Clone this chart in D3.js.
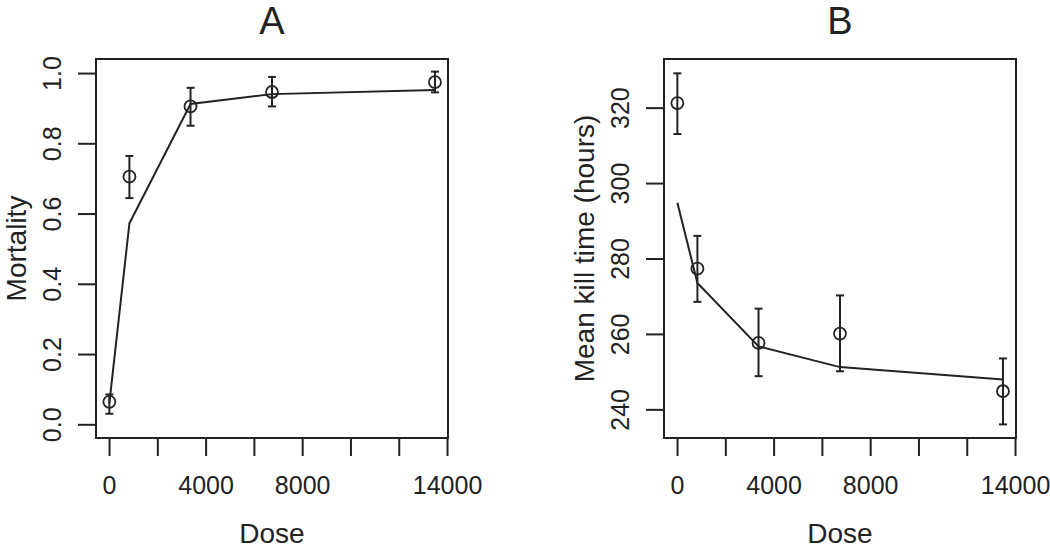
<!DOCTYPE html>
<html>
<head>
<meta charset="utf-8">
<script src="https://cdn.jsdelivr.net/npm/d3@7"></script>
<style>
  body { margin: 0; background: #fff; }
  svg { display: block; font-family: "Liberation Sans", Arial, Helvetica, sans-serif; }
</style>
</head>
<body>
<svg id="chart" width="1050" height="550"></svg>
<script>
// ---- Data ----
const doses = [13.5, 844, 3375, 6750, 13500];

// Panel A: mortality
const mortality      = [0.064, 0.705, 0.905, 0.946, 0.974];
const mortalityLow   = [0.030, 0.644, 0.850, 0.905, 0.945];
const mortalityHigh  = [0.085, 0.764, 0.958, 0.989, 1.004];
const mortalityFit   = [0.060, 0.572, 0.912, 0.940, 0.952];

// Panel B: mean kill time (hours)
const killTime      = [321.2, 277.3, 257.6, 260.1, 244.8];
const killTimeLow   = [313.0, 268.5, 248.8, 250.1, 236.0];
const killTimeHigh  = [329.1, 286.0, 266.7, 270.2, 253.5];
const killTimeFit   = [294.8, 273.5, 256.7, 251.2, 247.9];

const xTicks = [0, 2000, 4000, 6000, 8000, 10000, 12000, 14000];
const xTickLabels = [0, 4000, 8000, 14000];
const yTicksA = [0, 0.2, 0.4, 0.6, 0.8, 1.0];
const yTicksB = [240, 260, 280, 300, 320];

const panels = [
  { title: "A", ylab: "Mortality", left: 96, yDomain: [-0.039, 1.04],
    mean: mortality, lo: mortalityLow, hi: mortalityHigh, fit: mortalityFit,
    yTicks: yTicksA, fmt: d3.format(".1f") },
  { title: "B", ylab: "Mean kill time (hours)", left: 664, yDomain: [232.4, 332.9],
    mean: killTime, lo: killTimeLow, hi: killTimeHigh, fit: killTimeFit,
    yTicks: yTicksB, fmt: d3.format("d") }
];

const ink = "#222";
const plotTop = 59, plotBottom = 438, plotWidth = 352;
const svg = d3.select("#chart");

panels.forEach(p => {
  const x = d3.scaleLinear().domain([-540, 14040]).range([p.left, p.left + plotWidth]);
  const y = d3.scaleLinear().domain(p.yDomain).range([plotBottom, plotTop]);
  const g = svg.append("g");

  // box
  g.append("rect").attr("x", p.left).attr("y", plotTop)
    .attr("width", plotWidth).attr("height", plotBottom - plotTop)
    .attr("fill", "none").attr("stroke", ink).attr("stroke-width", 2);

  // x axis
  const xa = g.append("g").attr("transform", `translate(0,${plotBottom + 1})`)
    .call(d3.axisBottom(x).tickValues(xTicks).tickSize(17).tickSizeOuter(0)
      .tickFormat(d => xTickLabels.includes(d) ? d : ""));
  xa.select(".domain").remove();
  xa.selectAll(".tick line").attr("stroke", ink).attr("stroke-width", 2);
  xa.selectAll(".tick text").attr("y", 55).attr("dy", 0)
    .attr("fill", ink).style("font-size", "25px").style("font-family", "inherit");

  // y axis
  const ya = g.append("g").attr("transform", `translate(${p.left},0)`)
    .call(d3.axisLeft(y).tickValues(p.yTicks).tickSize(18).tickSizeOuter(0).tickFormat(p.fmt));
  ya.select(".domain").remove();
  ya.selectAll(".tick line").attr("stroke", ink).attr("stroke-width", 2);
  ya.selectAll(".tick text").attr("x", 0).attr("dy", 0)
    .attr("transform", "translate(-35,0) rotate(-90)")
    .attr("text-anchor", "middle")
    .attr("fill", ink).style("font-size", "25px").style("font-family", "inherit");

  // titles
  g.append("text").attr("x", p.left + plotWidth / 2).attr("y", 34)
    .attr("text-anchor", "middle").attr("fill", ink)
    .style("font-size", "38px").text(p.title);
  g.append("text").attr("x", p.left + plotWidth / 2).attr("y", 543)
    .attr("text-anchor", "middle").attr("fill", ink)
    .style("font-size", "28px").text("Dose");
  g.append("text")
    .attr("transform", `translate(${p.left - 70},${(plotTop + plotBottom) / 2}) rotate(-90)`)
    .attr("text-anchor", "middle").attr("fill", ink)
    .style("font-size", "28px").text(p.ylab);

  // fitted line
  const line = d3.line().x((d, i) => x(doses[i])).y(d => y(d));
  g.append("path").datum(p.fit).attr("d", line)
    .attr("fill", "none").attr("stroke", ink).attr("stroke-width", 2);

  // error bars
  const idx = d3.range(doses.length);
  const eb = g.append("g").attr("stroke", ink).attr("stroke-width", 2).attr("fill", "none");
  idx.forEach(i => {
    const cx = x(doses[i]);
    eb.append("line").attr("x1", cx).attr("x2", cx).attr("y1", y(p.lo[i])).attr("y2", y(p.hi[i]));
    eb.append("line").attr("x1", cx - 4).attr("x2", cx + 4).attr("y1", y(p.lo[i])).attr("y2", y(p.lo[i]));
    eb.append("line").attr("x1", cx - 4).attr("x2", cx + 4).attr("y1", y(p.hi[i])).attr("y2", y(p.hi[i]));
  });

  // points
  g.append("g").selectAll("circle").data(p.mean).join("circle")
    .attr("cx", (d, i) => x(doses[i])).attr("cy", d => y(d)).attr("r", 6)
    .attr("fill", "none").attr("stroke", ink).attr("stroke-width", 1.8);
});
</script>
</body>
</html>
